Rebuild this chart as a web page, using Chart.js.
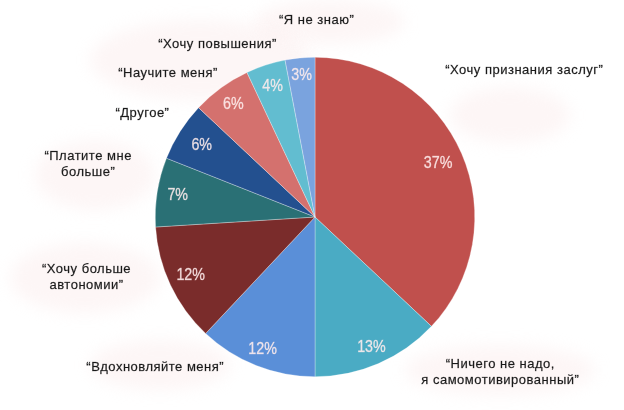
<!DOCTYPE html>
<html>
<head>
<meta charset="utf-8">
<script src="https://cdn.jsdelivr.net/npm/chart.js@4"></script>
<style>
html,body{margin:0;padding:0;background:#fff;}
#wrap{width:624px;height:410px;position:relative;}
</style>
</head>
<body>
<div id="wrap"><canvas id="c"></canvas></div>
<script>
const categories = [
  "“Хочу признания заслуг”",
  "“Ничего не надо,\nя самомотивированный”",
  "“Вдохновляйте меня”",
  "“Хочу больше\nавтономии”",
  "“Платите мне\nбольше”",
  "“Другое”",
  "“Научите меня”",
  "“Хочу повышения”",
  "“Я не знаю”"
];
const values = [37, 13, 12, 12, 7, 6, 6, 4, 3];
const colors = ["#c0504d","#4aabc4","#5a8fd8","#7a2c2b","#2a7075","#23508f","#d4716e","#62bdd0","#7aa3de"];

// label placement relative to pie centre, in units of radius (style only)
const labelPos = [
  [1.31,-0.92],[1.16,0.97],[-1.0,0.94],[-1.43,0.38],[-1.42,-0.33],[-1.08,-0.65],[-0.92,-0.9],[-0.61,-1.08],[0.01,-1.23]
];
const pctRadius = [0.84,0.89,0.89,0.86,0.87,0.84,0.87,0.86,0.89];

const blobs = [
  [330,22,75,22],[200,60,110,40],[95,175,60,35],[85,278,75,35],[160,365,70,25],[500,370,95,25],[510,115,60,28]
];

const bgPlugin = {
  id:'bg',
  beforeDraw(chart){
    const ctx = chart.ctx;
    ctx.save();
    ctx.filter = 'blur(8px)';
    ctx.fillStyle = 'rgba(250,225,225,0.3)';
    blobs.forEach(b=>{ctx.beginPath();ctx.ellipse(b[0],b[1],b[2],b[3],0,0,Math.PI*2);ctx.fill();});
    ctx.restore();
  }
};

const labelPlugin = {
  id:'labels',
  afterDatasetsDraw(chart){
    const ctx = chart.ctx;
    const meta = chart.getDatasetMeta(0);
    ctx.save();
    ctx.textAlign='center';
    ctx.textBaseline='middle';
    meta.data.forEach((arc,i)=>{
      const p = arc.getProps(['x','y','startAngle','endAngle','outerRadius'],true);
      const mid = (p.startAngle+p.endAngle)/2;
      const r = p.outerRadius*pctRadius[i];
      ctx.save();
      ctx.translate(p.x+Math.cos(mid)*r, p.y+Math.sin(mid)*r);
      ctx.scale(0.84,1);
      ctx.font = '17px "Liberation Sans", Arial, sans-serif';
      ctx.fillStyle = 'rgba(255,238,238,0.88)';
      ctx.strokeStyle = 'rgba(255,238,238,0.5)';
      ctx.lineWidth = 0.5;
      ctx.fillText(values[i]+'%', 0, 0);
      ctx.strokeText(values[i]+'%', 0, 0);
      ctx.restore();
      const lx = p.x + labelPos[i][0]*p.outerRadius;
      const ly = p.y + labelPos[i][1]*p.outerRadius;
      ctx.font = '13px "Liberation Sans", Arial, sans-serif';
      ctx.letterSpacing = '0.5px';
      ctx.fillStyle = '#1a1a1a';
      ctx.strokeStyle = 'rgba(26,26,26,0.5)';
      ctx.lineWidth = 0.4;
      const lines = categories[i].split('\n');
      lines.forEach((ln,k)=>{
        const yy = ly + (k-(lines.length-1)/2)*16;
        ctx.fillText(ln, lx, yy);
        ctx.strokeText(ln, lx, yy);
      });
      ctx.letterSpacing = '0px';
    });
    ctx.restore();
  }
};

new Chart(document.getElementById('c'),{
  type:'pie',
  data:{labels:categories,datasets:[{data:values,backgroundColor:colors,borderWidth:0.5,borderColor:'rgba(255,255,255,0.6)'}]},
  options:{
    responsive:true,maintainAspectRatio:false,animation:false,
    layout:{padding:{left:155,right:149,top:57,bottom:33}},
    plugins:{legend:{display:false},tooltip:{enabled:false}}
  },
  plugins:[bgPlugin,labelPlugin]
});
</script>
</body>
</html>
